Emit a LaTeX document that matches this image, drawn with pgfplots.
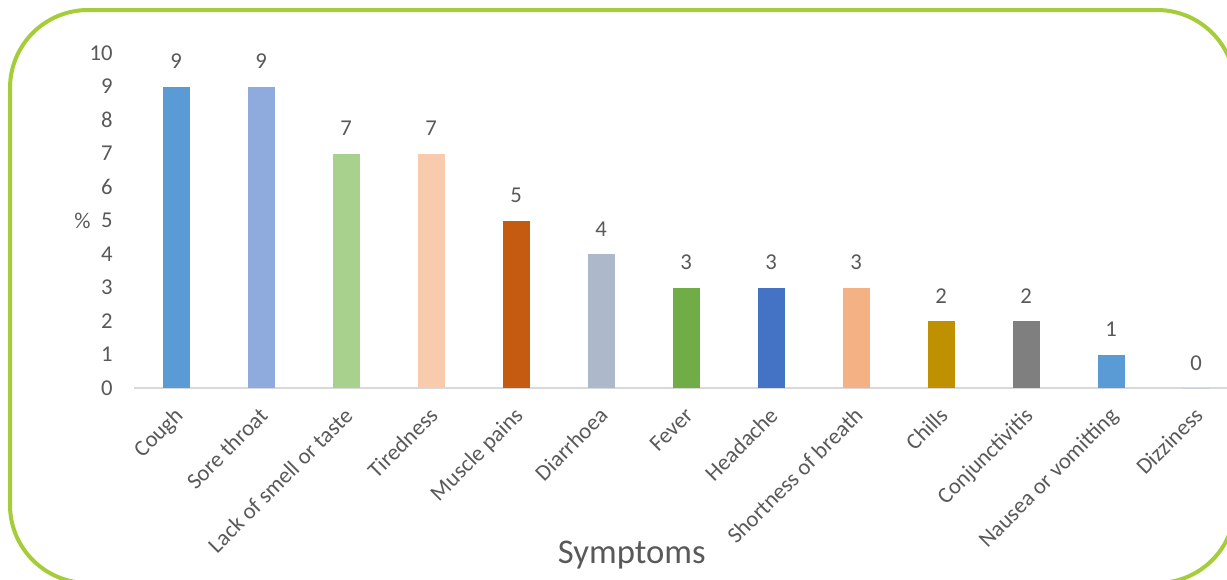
\documentclass[border=0pt]{standalone}
\usepackage{pgfplots}
\pgfplotsset{compat=1.18}
\usepackage{fontspec}
\setmainfont{Carlito}
\definecolor{txt}{HTML}{595959}
\definecolor{frame}{HTML}{A5CD39}
\definecolor{axline}{HTML}{D9D9D9}
\definecolor{c1}{HTML}{5B9BD5}
\definecolor{c2}{HTML}{8FAADC}
\definecolor{c3}{HTML}{A9D18E}
\definecolor{c4}{HTML}{F8CBAD}
\definecolor{c5}{HTML}{C55A11}
\definecolor{c6}{HTML}{ADB9CA}
\definecolor{c7}{HTML}{70AD47}
\definecolor{c8}{HTML}{4472C4}
\definecolor{c9}{HTML}{F4B183}
\definecolor{c10}{HTML}{BF9000}
\definecolor{c11}{HTML}{7F7F7F}
\definecolor{c12}{HTML}{5B9BD5}
\begin{document}
\begin{tikzpicture}
\useasboundingbox (0,0) rectangle (920.25bp,-435bp);
\begin{scope}
\clip (0,0) rectangle (920.25bp,-435bp);
\draw[line width=3bp, color=frame, rounded corners=58.5bp] (7.5bp,-7.5bp) rectangle (926.25bp,-437.25bp);
\end{scope}
\begin{axis}[
  at={(100.125bp,-291bp)}, anchor=south west,
  scale only axis, width=828.75bp, height=251.25bp,
  xmin=-0.5, xmax=12.5, ymin=0, ymax=10,
  enlargelimits=false, clip=false,
  ybar, bar width=20.25bp, bar shift=0pt,
  axis x line*=bottom, axis y line*=left,
  x axis line style={draw=axline, line width=1.5bp},
  y axis line style={draw=none},
  major tick length=0pt,
  ytick={0,1,...,10},
  xtick={0,1,...,12},
  xticklabels={Cough,Sore throat,Lack of smell or taste,Tiredness,Muscle pains,Diarrhoea,Fever,Headache,Shortness of breath,Chills,Conjunctivitis,Nausea or vomitting,Dizziness},
  /pgf/number format/assume math mode=true,
  tick label style={font=\fontsize{17bp}{19bp}\selectfont, text=txt},
  yticklabel style={anchor=east, inner sep=0pt, xshift=-15.4bp},
  xticklabel style={xshift=1bp, yshift=-16.5bp, rotate=45, anchor=north east, inner sep=0pt, text height=0.72em, text depth=0.22em},
  ylabel={\%},
  ylabel style={at={(axis description cs:0,0.5)}, rotate=-90, anchor=east, xshift=-32bp, inner sep=0pt, font=\fontsize{17bp}{19bp}\selectfont, text=txt},
  xlabel={Symptoms},
  xlabel style={at={(axis description cs:0.451,-0.525)}, anchor=base, inner sep=0pt, font=\fontsize{26bp}{28bp}\selectfont, text=txt},
  nodes near coords,
  every node near coord/.append style={font=\fontsize{17bp}{19bp}\selectfont, text=txt, inner sep=0pt, anchor=south, yshift=13bp},
]
\addplot[fill=c1, draw=none] coordinates {(0,9)};
\addplot[fill=c2, draw=none] coordinates {(1,9)};
\addplot[fill=c3, draw=none] coordinates {(2,7)};
\addplot[fill=c4, draw=none] coordinates {(3,7)};
\addplot[fill=c5, draw=none] coordinates {(4,5)};
\addplot[fill=c6, draw=none] coordinates {(5,4)};
\addplot[fill=c7, draw=none] coordinates {(6,3)};
\addplot[fill=c8, draw=none] coordinates {(7,3)};
\addplot[fill=c9, draw=none] coordinates {(8,3)};
\addplot[fill=c10, draw=none] coordinates {(9,2)};
\addplot[fill=c11, draw=none] coordinates {(10,2)};
\addplot[fill=c12, draw=none] coordinates {(11,1)};
\addplot[fill=c1, draw=none] coordinates {(12,0)};
\end{axis}
\end{tikzpicture}
\end{document}
